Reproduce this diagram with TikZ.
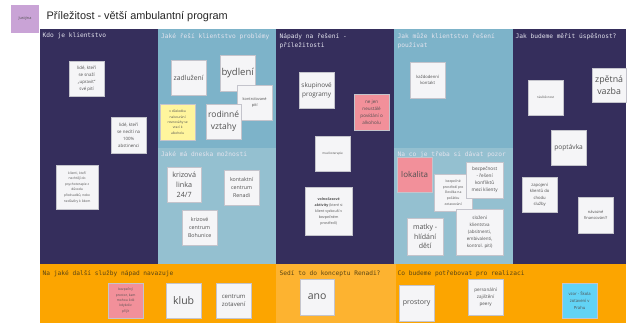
\documentclass[tikz,border=0pt]{standalone}
\usepackage{fontspec}
\setmainfont{Open Sans}
\newfontfamily\titlefont{Liberation Sans}
\newfontfamily\headfont{DejaVu Sans Mono}
\usetikzlibrary{shadows}
\definecolor{navy}{HTML}{352E5C}
\definecolor{blueA}{HTML}{7DB3C9}
\definecolor{blueB}{HTML}{94C0D0}
\definecolor{orangeA}{HTML}{FCA500}
\definecolor{orangeB}{HTML}{FDB330}
\definecolor{notewhite}{HTML}{F5F5F7}
\definecolor{noteline}{HTML}{C4C4CC}
\definecolor{notetext}{HTML}{505050}
\definecolor{notepink}{HTML}{F2909A}
\definecolor{noteyellow}{HTML}{FFF59D}
\definecolor{notecyan}{HTML}{62D3F5}
\definecolor{lilac}{HTML}{C9A3D6}
\definecolor{headlight}{HTML}{E4E4EE}
\definecolor{headdark}{HTML}{5A4514}
\newcommand\fs[2]{\fontsize{#1}{#2}\selectfont}
\tikzset{
  note/.style={fill=notewhite, draw=noteline, line width=0.3pt, text=notetext,
    align=center, inner sep=1pt, anchor=north west,
    drop shadow={shadow xshift=0.5pt, shadow yshift=-0.5pt, opacity=0.25, fill=black}},
  hdr/.style={anchor=north west, inner sep=0pt, align=left, text=headlight,
    font=\headfont\fs{6.2}{9}},
  hdrdark/.style={hdr, text=headdark},
}
\begin{document}
\begin{tikzpicture}[x=1pt,y=-1pt]
\useasboundingbox (0,0) rectangle (627,325);
\fill[white] (0,0) rectangle (627,325);
% top label and title
\node[fill=lilac, minimum width=28.5pt, minimum height=28.5pt, inner sep=0pt,
  anchor=north west, text=notetext, font=\fs{3.8}{4.5}] (who) at (10.5,4.5) {Justýna};
\node[anchor=west, inner sep=0pt, font=\titlefont\fs{10.9}{12}, text=black!85] (title) at (46.5,17) {Příležitost - větší ambulantní program};
% board backgrounds
\fill[navy] (40,29) rectangle (158,264);
\fill[blueA] (158,29) rectangle (276,148);
\fill[blueB] (158,148) rectangle (276,264);
\fill[navy] (276,29) rectangle (394,264);
\fill[blueA] (394,29) rectangle (513,148);
\fill[blueB] (394,148) rectangle (513,264);
\fill[navy] (513,29) rectangle (626,264);
\fill[orangeA] (40,264) rectangle (276,323);
\fill[orangeB] (276,264) rectangle (396,323);
\fill[orangeA] (396,264) rectangle (626,323);
% headers
\node[hdr] (h1) at (42.5,33) {Kdo je klientstvo};
\node[hdr] (h2) at (161,33) {Jaké řeší klientstvo problémy};
\node[hdr] (h3) at (279.5,33) {Nápady na řešení -\\příležitosti};
\node[hdr] (h4) at (397.5,33) {Jak může klientstvo řešení\\používat};
\node[hdr] (h5) at (515.5,33) {Jak budeme měřit úspěšnost?};
\node[hdr] (h6) at (161,151) {Jaké má dneska možnosti};
\node[hdr] (h7) at (397.5,151) {Na co je třeba si dávat pozor};
\node[hdrdark] (h8) at (42.5,270.5) {Na jaké další služby nápad navazuje};
\node[hdrdark] (h9) at (279.5,270.5) {Sedí to do konceptu Renadi?};
\node[hdrdark] (h10) at (397.5,270.5) {Co budeme potřebovat pro realizaci};
% column 1
\node[note, minimum width=35pt, minimum height=35pt, font=\fs{4.4}{7}] (n1) at (69,61) {lidé, kteří\\se snaží\\„upravit“\\své pití};
\node[note, minimum width=35pt, minimum height=36pt, font=\fs{4.4}{7}] (n2) at (111,117) {lidé, kteří\\se necítí na\\100\%\\abstinenci};
\node[note, minimum width=42pt, minimum height=44pt, font=\fs{3.3}{5.6}] (n3) at (56,165) {klienti, kteří\\nechtějí do\\psychoterapie z\\důvodu\\předsudků, nebo\\nedůvěry k lidem};
% column 2 top
\node[note, minimum width=35pt, minimum height=35pt, font=\fs{6.8}{9}] (n4) at (171,60) {zadlužení};
\node[note, minimum width=35pt, minimum height=36pt, font=\fs{9.5}{12}] (n5) at (220,55) {bydlení};
\node[note, minimum width=35pt, minimum height=35pt, font=\fs{3.9}{6.5}] (n6) at (237,85) {kontrolované\\pití};
\node[note, minimum width=35pt, minimum height=35pt, font=\fs{8.5}{12}] (n7) at (206,104) {rodinné\\vztahy};
\node[note, fill=noteyellow, minimum width=35pt, minimum height=36pt, font=\fs{3.3}{5.4}] (n8) at (160,104) {v důsledku\\nabourání\\rovnováhy se\\vrací k\\alkoholu};
% column 2 bottom
\node[note, minimum width=34pt, minimum height=35pt, font=\fs{7.2}{10}] (n9) at (167,167) {krizová\\linka\\24/7};
\node[note, minimum width=35pt, minimum height=35pt, font=\fs{5.3}{8}] (n10) at (224,170) {kontaktní\\centrum\\Renadi};
\node[note, minimum width=35pt, minimum height=35pt, font=\fs{5.3}{8}] (n11) at (182,210) {krizové\\centrum\\Bohunice};
% column 3
\node[note, minimum width=35pt, minimum height=36pt, font=\fs{6.4}{8.5}] (n12) at (299,72) {skupinové\\programy};
\node[note, fill=notepink, minimum width=35pt, minimum height=36pt, font=\fs{4.6}{7}] (n13) at (354,94) {ne jen\\neustálé\\povídání o\\alkoholu};
\node[note, minimum width=35pt, minimum height=35pt, font=\fs{3.1}{5}] (n14) at (315,136) {muzikoterapie};
\node[note, minimum width=47pt, minimum height=48pt, font=\fs{3.6}{6}] (n15) at (305,187) {\textbf{volnočasové}\\\textbf{aktivity} (které si\\klient vyzkouší v\\bezpečném\\prostředí)};
% column 4 top
\node[note, minimum width=35pt, minimum height=36pt, font=\fs{4.2}{6.5}] (n16) at (410,62) {každodenní\\kontakt};
% column 4 bottom
\node[note, fill=notepink, minimum width=35pt, minimum height=35pt, font=\fs{8}{10}] (n17) at (397,157) {lokalita};
\node[note, minimum width=38pt, minimum height=37pt, font=\fs{3.4}{5.6}] (n18) at (434,174) {bezpečné\\prostředí pro\\člověka na\\počátku\\zotavování};
\node[note, minimum width=37pt, minimum height=36pt, font=\fs{4.7}{7}] (n19) at (466,162) {bezpečnost\\- řešení\\konfliktů\\mezi klienty};
\node[note, minimum width=36pt, minimum height=37pt, font=\fs{7}{9.5}] (n20) at (407,218) {matky -\\hlídání\\dětí};
\node[note, minimum width=47pt, minimum height=46pt, font=\fs{4.5}{7}] (n21) at (456,209) {složení\\klientstva\\(absitnenti,\\embivalenti,\\kontrol. pití)};
% column 5
\node[note, minimum width=34pt, minimum height=34pt, font=\fs{8.8}{11.5}] (n22) at (592,68) {zpětná\\vazba};
\node[note, minimum width=35pt, minimum height=35pt, font=\fs{3.1}{5}] (n23) at (528,80) {návštěvnost};
\node[note, minimum width=35pt, minimum height=35pt, font=\fs{6.6}{9}] (n24) at (551,130) {poptávka};
\node[note, minimum width=35pt, minimum height=35pt, font=\fs{4.2}{6.5}] (n25) at (522,177) {zapojení\\klientů do\\chodu\\služby};
\node[note, minimum width=35pt, minimum height=36pt, font=\fs{4}{6.5}] (n26) at (578,197) {návazné\\financování?};
% bottom row
\node[note, fill=notepink, minimum width=35pt, minimum height=35pt, font=\fs{3.3}{5.4}] (n27) at (108,283) {bezpečný\\prostor, kam\\mohou lidé\\kdykoliv\\přijít};
\node[note, minimum width=35pt, minimum height=35pt, font=\fs{10.5}{12}] (n28) at (166,283) {klub};
\node[note, minimum width=35pt, minimum height=35pt, font=\fs{6}{8.5}] (n29) at (216,283) {centrum\\zotavení};
\node[note, minimum width=34pt, minimum height=36pt, font=\fs{10.5}{12}] (n30) at (300,279) {ano};
\node[note, minimum width=35pt, minimum height=36pt, font=\fs{7}{9}] (n31) at (399,285) {prostory};
\node[note, minimum width=35pt, minimum height=36pt, font=\fs{4.6}{7}] (n32) at (468,279) {personální\\zajištění\\peery};
\node[note, fill=notecyan, minimum width=35pt, minimum height=35pt, font=\fs{4.2}{6.8}] (n33) at (562,283) {vzor - Škola\\zotavení v\\Prahu};
\end{tikzpicture}
\end{document}
